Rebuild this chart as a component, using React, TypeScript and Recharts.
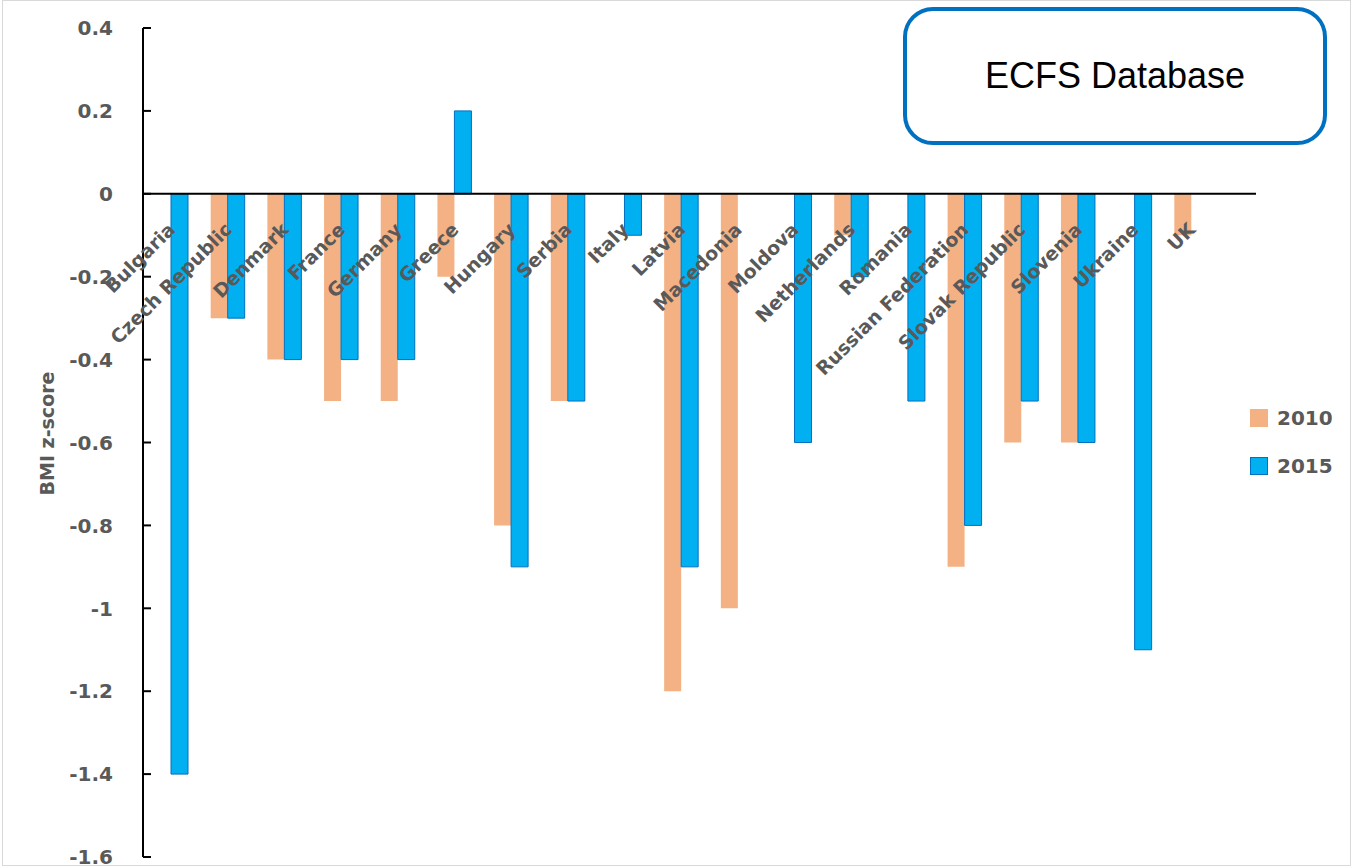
import { Bar, BarChart, Legend, ReferenceLine, XAxis, YAxis } from "recharts";

const countries = [
  "Bulgaria",
  "Czech Republic",
  "Denmark",
  "France",
  "Germany",
  "Greece",
  "Hungary",
  "Serbia",
  "Italy",
  "Latvia",
  "Macedonia",
  "Moldova",
  "Netherlands",
  "Romania",
  "Russian Federation",
  "Slovak Republic",
  "Slovenia",
  "Ukraine",
  "UK",
];

const values2010 = [null, -0.3, -0.4, -0.5, -0.5, -0.2, -0.8, -0.5, null, -1.2, -1.0, null, -0.1, null, -0.9, -0.6, -0.6, null, -0.1];
const values2015 = [-1.4, -0.3, -0.4, -0.4, -0.4, 0.2, -0.9, -0.5, -0.1, -0.9, null, -0.6, -0.2, -0.5, -0.8, -0.5, -0.6, -1.1, null];

const yTicks = [0.4, 0.2, 0, -0.2, -0.4, -0.6, -0.8, -1, -1.2, -1.4, -1.6];
const yMin = -1.6;
const yMax = 0.4;

const chartData = countries.map((name, i) => ({
  name,
  y2010: values2010[i],
  y2015: values2015[i],
}));

const W = 1353;
const H = 867;
const margin = { top: 28, right: 97, bottom: 0, left: 0 };
const xAxisHeight = 10;
const yAxisWidth = 143;
const plotTop = margin.top;
const plotH = H - margin.top - margin.bottom - xAxisHeight;
const zeroY = plotTop + ((yMax - 0) / (yMax - yMin)) * plotH;

const labelColor = "#595959";
const axisFont = "'DejaVu Sans', sans-serif";

// category names sit just under the zero line, slanted 45°
function CountryTick(props: any) {
  const { x, payload } = props;
  const px = x + 5;
  const py = zeroY + 37;
  return (
    <text
      x={px}
      y={py}
      transform={`rotate(-45, ${px}, ${py})`}
      textAnchor="end"
      fill={labelColor}
      fontFamily={axisFont}
      fontWeight="bold"
      fontSize={19}
    >
      {payload.value}
    </text>
  );
}

// tick marks point into the plot, labels right-aligned left of the axis
function ValueTick(props: any) {
  const { y, payload } = props;
  return (
    <g>
      <line x1={yAxisWidth} x2={yAxisWidth + 8} y1={y} y2={y} stroke="#000" strokeWidth={2} />
      <text
        x={113}
        y={y}
        dy="0.36em"
        textAnchor="end"
        fill={labelColor}
        fontFamily={axisFont}
        fontWeight="bold"
        fontSize={20}
      >
        {String(payload.value)}
      </text>
    </g>
  );
}

function YTitle(props: any) {
  const { viewBox } = props;
  const cx = 47;
  const cy = viewBox.y + viewBox.height / 2 - 9;
  return (
    <text
      x={cx}
      y={cy}
      dy="0.36em"
      transform={`rotate(-90, ${cx}, ${cy})`}
      textAnchor="middle"
      fill={labelColor}
      fontFamily={axisFont}
      fontWeight="bold"
      fontSize={19}
    >
      BMI z-score
    </text>
  );
}

function LegendBox(props: any) {
  const items = props.payload || [];
  return (
    <div style={{ fontFamily: axisFont, fontWeight: "bold", fontSize: 20, color: labelColor }}>
      {items.map((item: any) => (
        <div key={item.value} style={{ display: "flex", alignItems: "center", height: 48 }}>
          <span
            style={{
              display: "inline-block",
              width: 18,
              height: 18,
              boxSizing: "border-box",
              background: item.color,
              border: item.payload?.stroke ? `1.5px solid ${item.payload.stroke}` : "none",
              marginRight: 9,
            }}
          />
          <span>{item.value}</span>
        </div>
      ))}
    </div>
  );
}

export default function App() {
  return (
    <div style={{ position: "absolute", left: 0, top: 0, width: W, height: H, background: "#fff" }}>
      <div
        style={{
          position: "absolute",
          left: 2,
          top: 0,
          width: 1349,
          height: 866,
          boxSizing: "border-box",
          border: "1px solid #d9d9d9",
        }}
      />
      <BarChart
        width={W}
        height={H}
        data={chartData}
        margin={margin}
        barSize={17}
        barGap={0}
        style={{ position: "absolute", left: 0, top: 0 }}
      >
        <XAxis
          dataKey="name"
          height={xAxisHeight}
          axisLine={false}
          tickLine={false}
          interval={0}
          padding={{ left: 0, right: 36 }}
          tick={<CountryTick />}
        />
        <YAxis
          width={yAxisWidth}
          domain={[yMin, yMax]}
          ticks={yTicks}
          interval={0}
          tickLine={false}
          axisLine={{ stroke: "#000", strokeWidth: 2 }}
          tick={<ValueTick />}
          label={<YTitle />}
        />
        <Legend
          layout="horizontal"
          align="center"
          verticalAlign="middle"
          content={<LegendBox />}
          wrapperStyle={{ left: 1250, top: 394, width: 100, height: 96 }}
        />
        <Bar dataKey="y2010" name="2010" fill="#F4B183" isAnimationActive={false} />
        <Bar dataKey="y2015" name="2015" fill="#00B0F0" stroke="#0070C0" strokeWidth={1} isAnimationActive={false} />
        <ReferenceLine y={0} stroke="#000" strokeWidth={2} />
      </BarChart>
      <div
        style={{
          position: "absolute",
          left: 903,
          top: 7,
          width: 424,
          height: 138,
          boxSizing: "border-box",
          border: "4px solid #0070C0",
          borderRadius: 30,
          display: "flex",
          alignItems: "center",
          justifyContent: "center",
          fontFamily: "'Liberation Sans', Arial, sans-serif",
          fontSize: 36,
          color: "#000",
          background: "#fff",
        }}
      >
        ECFS Database
      </div>
    </div>
  );
}
